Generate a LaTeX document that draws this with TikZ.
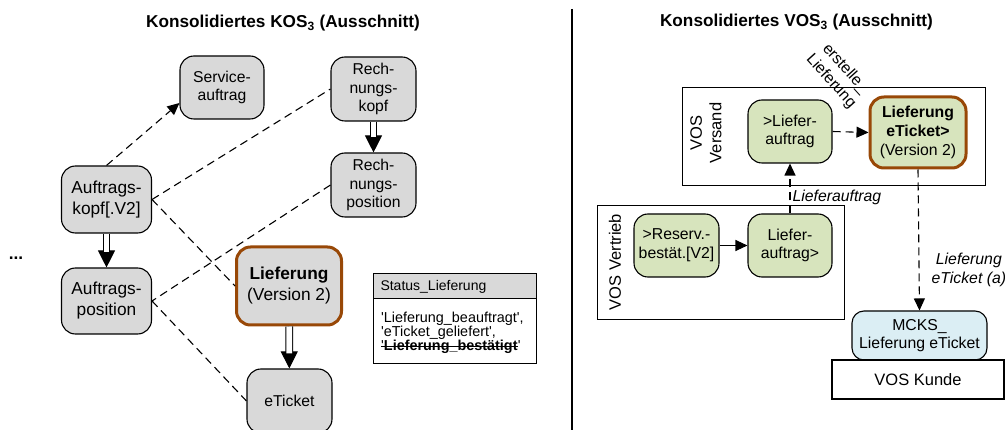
\documentclass[tikz,border=0pt]{standalone}
\usepackage{fontspec}
\setmainfont{Liberation Sans}
\usetikzlibrary{arrows.meta}
\definecolor{boxgray}{RGB}{217,217,217}
\definecolor{boxgreen}{RGB}{215,228,189}
\definecolor{boxblue}{RGB}{219,238,244}
\definecolor{hlbrown}{RGB}{152,72,7}
\newcommand{\fsbox}{\fontsize{15.8}{18.7}\selectfont}
\newcommand{\fssmall}{\fontsize{15.7}{18.3}\selectfont}
\newcommand{\fsbig}{\fontsize{17.3}{21}\selectfont}
\newcommand{\fstitle}{\fontsize{17.2}{20}\selectfont\bfseries}
\newcommand{\fstab}{\fontsize{14.4}{14.4}\selectfont}
\begin{document}
\begin{tikzpicture}[x=1pt,y=-1pt,
  box/.style={draw, rounded corners=14pt, line width=1.1pt, align=center, inner sep=2pt, font=\fsbox},
  gbox/.style={box, fill=boxgray},
  vbox/.style={box, fill=boxgreen},
  hl/.style={draw=hlbrown, line width=3pt},
  frame/.style={draw, line width=1pt},
  tabline/.style={font=\fstab, inner sep=0pt, anchor=base west},
  dashconn/.style={dash pattern=on 8pt off 5pt, line width=1.1pt},
  darr/.style={dashconn, -{Triangle[width=11pt,length=12pt]}},
  sarr/.style={line width=1.1pt, -{Triangle[width=11pt,length=12pt]}},
  tipline/.style={line width=1pt, -{Triangle[width=17pt,length=17pt]}},
  dblline/.style={double, double distance=5.8pt, line width=0.95pt, shorten >=15pt},
  lbl/.style={font=\fsbox\itshape, align=center, inner sep=1pt}
]
\useasboundingbox (0,0) rectangle (1005,430);

% titles and separator
\node[font=\fstitle] (t1) at (283,23) {Konsolidiertes KOS\textsubscript{3} (Ausschnitt)};
\node[font=\fstitle] (t2) at (796.5,22) {Konsolidiertes VOS\textsubscript{3} (Ausschnitt)};
\coordinate (sepa) at (572,9);
\coordinate (sepb) at (572,432);
\draw[line width=2pt] (sepa) -- (sepb);

% left panel
\node[font=\fsbig\bfseries] (dots) at (16,258) {...};
\node[gbox, font=\fssmall, minimum width=84pt, minimum height=63pt] (serv) at (222,87.5) {Service-\\auftrag};
\node[gbox, font=\fssmall, minimum width=85pt, minimum height=64pt] (rkopf) at (373.5,89) {Rech-\\nungs-\\kopf};
\node[gbox, font=\fssmall, minimum width=85pt, minimum height=64pt] (rpos) at (373.5,185) {Rech-\\nungs-\\position};
\node[gbox, font=\fsbig, minimum width=90pt, minimum height=67pt] (akopf) at (106.5,199.5) {Auftrags-\\kopf[.V2]};
\node[gbox, font=\fsbig, minimum width=90pt, minimum height=66pt] (apos) at (106.5,301) {Auftrags-\\position};
\node[gbox, hl, font=\fsbig, minimum width=105pt, minimum height=78pt] (lief) at (289,286) {\textbf{Lieferung}\\(Version 2)};
\node[gbox, font=\fssmall, minimum width=85pt, minimum height=64pt] (eticket) at (289.5,401) {eTicket};

% status table
\node[draw, line width=1pt, fill=boxgray, minimum width=163pt, minimum height=25pt, text width=148pt, inner xsep=7.5pt, inner ysep=0pt, align=left, font=\fontsize{14}{14}\selectfont] (stath) at (454.5,286.5) {Status\_Lieferung};
\node[draw, line width=1pt, fill=white, minimum width=163pt, minimum height=65pt, inner sep=0pt] (statb) at (454.5,331.5) {};
\node[tabline] (sl1) at (381,322.7) {\textquotesingle Lieferung\_beauftragt\textquotesingle,};
\node[tabline] (sl2) at (381,336.5) {\textquotesingle eTicket\_geliefert\textquotesingle,};
\node[tabline] (sl3) at (381,351) {\textquotesingle\textbf{Lieferung\_bestätigt}};
\node[tabline] (sl3q) at (sl3.base east) {\textquotesingle};
\draw[line width=1.3pt] ([yshift=4.6pt]sl3.base west) -- ([yshift=4.6pt]sl3.base east);

% left connectors
\draw[darr] (akopf.north) -- (serv.200);
\draw[dashconn] (akopf.east) -- (rkopf.west);
\draw[dashconn] (akopf.east) -- (lief.west);
\draw[dashconn] (rpos.west) -- (apos.east);
\draw[dashconn] (apos.east) -- (eticket.west);
\draw[tipline] (akopf) -- (apos);
\draw[dblline] (akopf) -- (apos);
\draw[tipline] (rkopf) -- (rpos);
\draw[dblline] (rkopf) -- (rpos);
\draw[tipline] (lief) -- (eticket);
\draw[dblline] (lief) -- (eticket);

% right panel frames
\node[frame, minimum width=303pt, minimum height=98pt, inner sep=0pt] (versand) at (833.5,137) {};
\node[frame, minimum width=247pt, minimum height=114pt, inner sep=0pt] (vertrieb) at (720.5,263) {};
\node[rotate=90, align=center, font=\fontsize{16.5}{19.5}\selectfont] (versandlbl) at (706,133) {VOS\\Versand};
\node[rotate=90, font=\fontsize{16.5}{19.5}\selectfont] (vertrieblbl) at (615,262) {VOS Vertrieb};
\node[rotate=-48, align=center, font=\fontsize{15.8}{19}\selectfont] (erstlbl) at (838,75) {erstelle\_\\Lieferung};

% right panel nodes
\node[vbox, minimum width=84pt, minimum height=63pt] (lauf1) at (790,131.5) {>Liefer-\\auftrag};
\node[vbox, hl, minimum width=96pt, minimum height=71pt, font=\fontsize{15.8}{19}\selectfont] (lief2) at (918,132.5) {\textbf{Lieferung}\\\textbf{eTicket>}\\(Version 2)};
\node[vbox, minimum width=85pt, minimum height=63pt] (reserv) at (676.5,245.5) {>Reserv.-\\bestät.[V2]};
\node[vbox, minimum width=84pt, minimum height=63pt] (lauf2) at (790,245.5) {Liefer-\\auftrag>};
\node[box, fill=boxblue, rounded corners=12pt, minimum width=135pt, minimum height=49pt] (mcks) at (919.5,335.5) {MCKS\_\\Lieferung eTicket};
\node[draw, line width=1.1pt, fill=white, minimum width=172pt, minimum height=39pt, font=\fontsize{16.5}{19}\selectfont] (kunde) at (918,379.5) {VOS Kunde};

% right connectors
\draw[darr] (lauf1.east) -- (lief2.west);
\draw[sarr] (reserv.east) -- (lauf2.west);
\draw[darr] (lauf2.north) -- node[lbl, right, pos=0.33, xshift=1pt] {Lieferauftrag} (lauf1.south);
\draw[darr] (lief2.south) -- node[lbl, right, pos=0.71, xshift=11pt] {Lieferung\\eTicket (a)} (mcks.north);
\end{tikzpicture}
\end{document}
